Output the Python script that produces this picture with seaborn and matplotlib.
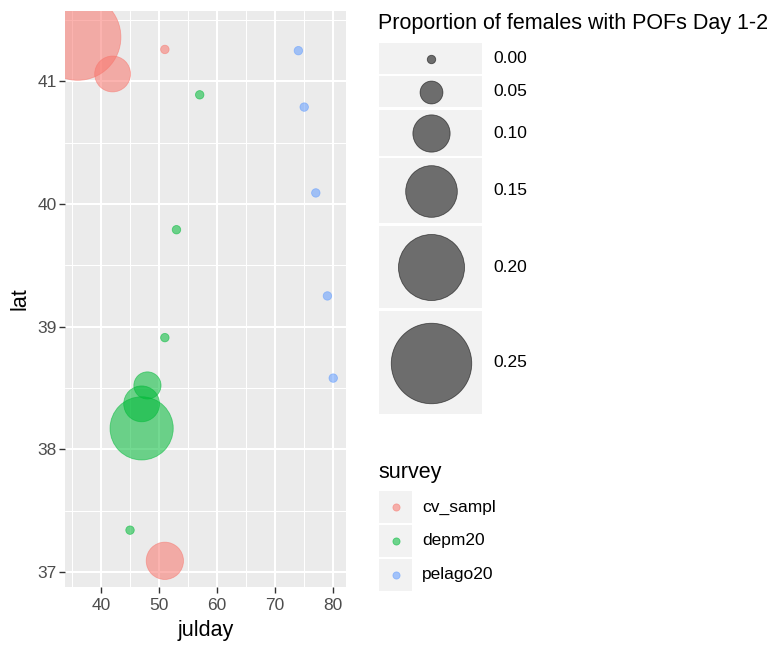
import matplotlib
matplotlib.use("Agg")
import matplotlib.pyplot as plt
from matplotlib.patches import Rectangle
import numpy as np
import pandas as pd
import seaborn as sns

# Survey stations: day of year, latitude, proportion of females with POFs (day 1-2)
survey = ["cv_sampl"] * 4 + ["depm20"] * 7 + ["pelago20"] * 5
julday = [36, 42, 51, 51,
          57, 53, 51, 48, 47, 47, 45,
          74, 75, 77, 79, 80]
lat = [41.36, 41.06, 41.26, 37.09,
       40.89, 39.79, 38.91, 38.52, 38.37, 38.17, 37.34,
       41.25, 40.79, 40.09, 39.25, 38.58]
prop_pof = [0.27, 0.095, 0.0, 0.10,
            0.0, 0.0, 0.0, 0.065, 0.095, 0.19, 0.0,
            0.0, 0.0, 0.0, 0.0, 0.0]

survey_levels = ["cv_sampl", "depm20", "pelago20"]
survey_colors = ["#F8766D", "#00BA38", "#619CFF"]
size_breaks = [0.00, 0.05, 0.10, 0.15, 0.20, 0.25]
x_ticks = [40, 50, 60, 70, 80]
y_ticks = [37, 38, 39, 40, 41]

df = pd.DataFrame({"julday": julday, "lat": lat,
                   "prop": prop_pof, "survey": survey})

DPI = 100
W, H = 772, 646
ALPHA = 0.55
EDGE_LW = 0.6


def marker_area(v):
    """Marker area (pt^2) for a proportion; diameter grows linearly."""
    d_px = 9.3 + 288.0 * v
    d_pt = d_px * 72.0 / DPI - EDGE_LW
    return d_pt ** 2


sns.set_theme(style="darkgrid")
plt.rcParams["font.family"] = ["Liberation Sans", "DejaVu Sans"]

fig = plt.figure(figsize=(W / DPI, H / DPI), dpi=DPI)
fig.patch.set_facecolor("white")

# panel box in pixels
px0, px1, py0, py1 = 65, 346, 11, 587
ax = fig.add_axes([px0 / W, 1 - py1 / H, (px1 - px0) / W, (py1 - py0) / H])

size_lookup = {v: marker_area(v) for v in sorted(set(prop_pof))}
sns.scatterplot(data=df, x="julday", y="lat", hue="survey", size="prop",
                hue_order=survey_levels, palette=survey_colors,
                sizes=size_lookup, alpha=ALPHA, linewidth=EDGE_LW,
                legend=False, ax=ax, zorder=3)
for coll in ax.collections:
    coll.set_edgecolor(coll.get_facecolor())

ax.set_facecolor("#EBEBEB")
for s in ax.spines.values():
    s.set_visible(False)
ax.set_xticks(x_ticks)
ax.set_yticks(y_ticks)
ax.set_xticks(np.arange(35, 85, 10), minor=True)
ax.set_yticks(np.arange(36.5, 42, 1.0), minor=True)

# ggplot-like expanded limits (5% of data range)
xr = max(julday) - min(julday)
yr = max(lat) - min(lat)
ax.set_xlim(min(julday) - 0.05 * xr, max(julday) + 0.05 * xr)
ax.set_ylim(min(lat) - 0.05 * yr, max(lat) + 0.05 * yr)

ax.grid(which="major", color="white", linewidth=1.45)
ax.grid(which="minor", color="white", linewidth=0.75)
ax.set_axisbelow(True)
ax.tick_params(which="major", length=4, width=1.0, color="#333333",
               labelcolor="#4D4D4D", labelsize=12.5, pad=2,
               bottom=True, left=True)
ax.tick_params(axis="x", which="major", pad=4)
ax.tick_params(which="minor", length=0)
ax.set_xlabel("julday", fontsize=15.5, color="black", labelpad=5)
ax.set_ylabel("lat", fontsize=15.5, color="black", labelpad=5)

# legends drawn in pixel space
lax = fig.add_axes([0, 0, 1, 1], zorder=5)
lax.set_xlim(0, W)
lax.set_ylim(H, 0)
lax.axis("off")
lax.patch.set_alpha(0)

lax.text(378, 29, "Proportion of females with POFs Day 1-2", fontsize=15.5,
         ha="left", va="baseline", color="black")
size_keys = [(43, 74), (76, 107), (110, 156), (158, 223), (226, 308), (311, 414)]
kx0, kx1 = 379, 482
for v, (t, b) in zip(size_breaks, size_keys):
    lax.add_patch(Rectangle((kx0, t), kx1 - kx0, b - t,
                            facecolor="#F2F2F2", edgecolor="none"))
    cy = (t + b) / 2
    lax.scatter([(kx0 + kx1) / 2], [cy], s=marker_area(v), color="black",
                alpha=ALPHA, linewidth=EDGE_LW, edgecolor="black")
    lax.text(493, cy, f"{v:.2f}", fontsize=12.5, ha="left", va="center",
             color="black")

lax.text(378, 478, "survey", fontsize=15.5, ha="left", va="baseline",
         color="black")
surv_keys = [(491, 523), (525, 557), (559, 591)]
for name, col, (t, b) in zip(survey_levels, survey_colors, surv_keys):
    lax.add_patch(Rectangle((379, t), 33, b - t,
                            facecolor="#F2F2F2", edgecolor="none"))
    cy = (t + b) / 2
    lax.scatter([395.5], [cy], s=((8 * 72 / DPI) - EDGE_LW) ** 2, color=col,
                alpha=ALPHA, linewidth=EDGE_LW, edgecolor=col)
    lax.text(422, cy, name, fontsize=12.5, ha="left", va="center",
             color="black")

fig.savefig("out.png", dpi=DPI)
